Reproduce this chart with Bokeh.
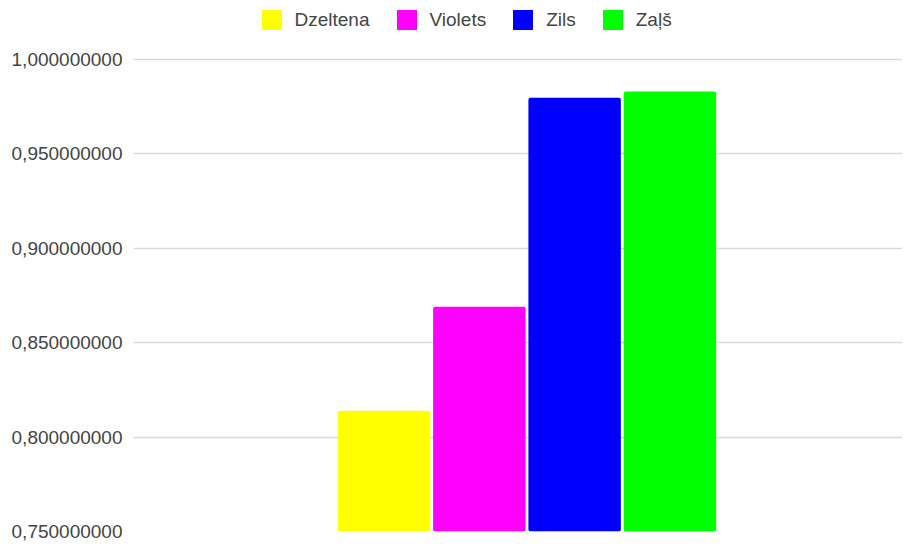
from bokeh.plotting import figure
from bokeh.models import ColumnDataSource, Range1d, FixedTicker, Legend, LegendItem
from bokeh.transform import dodge
from bokeh.embed import file_html
from bokeh.resources import INLINE

# ---- data ----
categories = [""]
series_names = ["Dzeltena", "Violets", "Zils", "Zaļš"]
series_values = [0.8140, 0.8690, 0.9797, 0.9831]
series_colors = ["#ffff00", "#ff00ff", "#0000ff", "#00ff00"]
y_ticks = [0.75, 0.80, 0.85, 0.90, 0.95, 1.00]
y_tick_labels = ["0,750000000", "0,800000000", "0,850000000",
                 "0,900000000", "0,950000000", "1,000000000"]

# ---- figure ----
FONT = "Liberation Sans"
TEXT = "#444444"
slot = 0.2
bar_w = 0.194

p = figure(width=902, height=542, output_backend="svg", toolbar_location=None,
           x_range=Range1d(-0.8258, 0.7881), y_range=Range1d(0.75, 1.03125),
           min_border_left=133, min_border_right=0, min_border_top=0,
           min_border_bottom=11)
p.outline_line_color = None
p.xaxis.visible = False
p.xgrid.visible = False
p.ygrid.grid_line_color = "#dadada"
p.ygrid.grid_line_width = 1.5

ax = p.yaxis[0]
ax.ticker = FixedTicker(ticks=y_ticks)
ax.major_label_overrides = dict(zip(y_ticks, y_tick_labels))
ax.axis_line_color = None
ax.major_tick_line_color = None
ax.minor_tick_line_color = None
ax.major_tick_out = 0
ax.major_tick_in = 0
ax.major_label_standoff = 11
ax.major_label_text_font = FONT
ax.major_label_text_font_size = "19px"
ax.major_label_text_color = TEXT

n = len(series_names)
items = []
for j, (name, val, col) in enumerate(zip(series_names, series_values, series_colors)):
    src = ColumnDataSource(dict(x=list(range(len(categories))), top=[val]))
    off = (j - (n - 1) / 2) * slot
    r = p.vbar(x=dodge("x", off), top="top", bottom=y_ticks[0], width=bar_w,
               source=src, fill_color=col, line_color=None, border_radius=2)
    items.append(LegendItem(label=name, renderers=[r]))

legend = Legend(items=items, orientation="horizontal", location=(125.5, 499),
                border_line_color=None, background_fill_alpha=0,
                padding=0, margin=0, spacing=24, label_standoff=11,
                glyph_width=25, glyph_height=25, label_height=25,
                label_text_font=FONT, label_text_font_size="19px",
                label_text_color=TEXT)
p.add_layout(legend)

open("out.html", "w").write(file_html(p, INLINE))
